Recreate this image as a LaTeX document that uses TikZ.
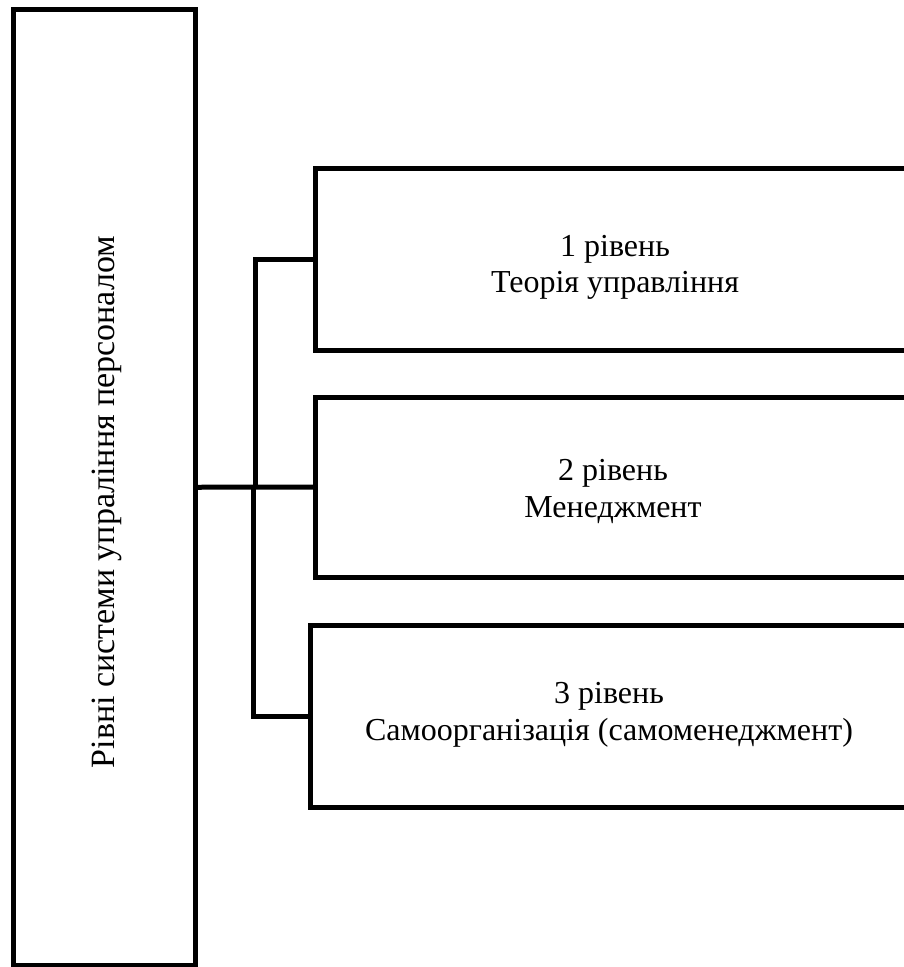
\documentclass[tikz,border=0pt]{standalone}
\usepackage{fontspec}
\setmainfont{Liberation Serif}
\begin{document}
\begin{tikzpicture}[x=1pt,y=-1pt,
  frame/.style={draw=black,line width=5pt,fill=none,inner sep=0pt,minimum width=#1},
  wire/.style={draw=black,line width=5pt},
  label/.style={anchor=base,inner sep=0pt,font=\fontsize{32}{38}\selectfont}]
\useasboundingbox (0,0) rectangle (904,967);
% left column with the overall title
\node[frame=182pt,minimum height=955.5pt] (levels) at (104.5,487.25) {};
\node[label,rotate=90,font=\fontsize{34}{40}\selectfont] (title) at (114,502) {Рівні системи упраління персоналом};
% the three levels
\node[frame=594.5pt,minimum height=181.3pt] (b1) at (612.75,259.35) {};
\node[frame=594.5pt,minimum height=180pt] (b2) at (612.75,487) {};
\node[frame=599.5pt,minimum height=182pt] (b3) at (610.25,716) {};
\node[label] (t1a) at (615,256) {1 рівень};
\node[label] (t1b) at (615,292) {Теорія управління};
\node[label] (t2a) at (613,480) {2 рівень};
\node[label] (t2b) at (613,517) {Менеджмент};
\node[label] (t3a) at (609,703) {3 рівень};
\node[label] (t3b) at (609,740) {Самоорганізація (самоменеджмент)};
% connectors
\coordinate (busup) at (255,487);
\coordinate (busdown) at (253,487);
\draw[wire] (levels.east) -- (b2.west);
\draw[wire] (busup) |- (b1.west);
\draw[wire] (busdown) |- (b3.west);
\end{tikzpicture}
\end{document}
